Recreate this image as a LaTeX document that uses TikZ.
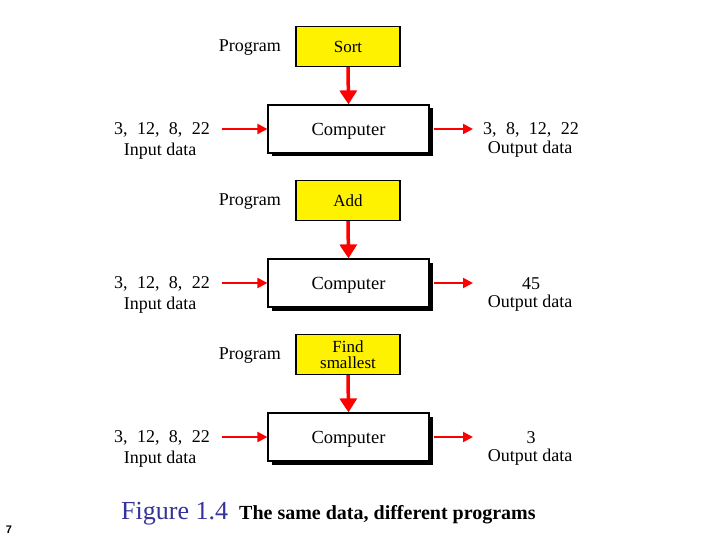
\documentclass[tikz,border=0pt]{standalone}
\usepackage{fontspec}
\setmainfont{Liberation Serif}
\newfontfamily\datafont[WordSpace=2.1]{Liberation Serif}
\newfontfamily\pagefont{Liberation Sans}
\usetikzlibrary{arrows.meta,shadows}
\definecolor{figblue}{RGB}{51,51,153}
\tikzset{
  progbox/.style={draw,line width=1.4pt,fill=yellow,minimum width=104pt,minimum height=40pt,
    align=center,inner sep=0pt,font=\fontsize{17}{15.5}\selectfont},
  compbox/.style={draw,line width=1.2pt,fill=white,minimum width=161pt,minimum height=48pt,
    inner sep=0pt,text height=15pt,text depth=2.5pt,font=\fontsize{18.5}{18}\selectfont,
    drop shadow={shadow xshift=3.5pt,shadow yshift=-3.5pt,fill=black,opacity=1}},
  txt/.style={inner sep=0pt,font=\fontsize{18}{18}\selectfont},
  feed/.style={->,red,line width=2pt},
  down/.style={->,red,line width=3.5pt}
}
\begin{document}
\begin{tikzpicture}[x=1pt,y=-1pt,>={Triangle[length=10pt,width=10pt]}]
\useasboundingbox (0,0) rectangle (720,540);
\foreach \i/\prog/\res in {0/Sort/{3,  8,  12,  22},1/Add/45,2/{Find\\smallest}/3}{
  \node[progbox] (prog\i) at (348,46.5+154*\i) {\prog};
  \node[txt,anchor=east] (lab\i) at (281,48+154*\i) {Program};
  \node[compbox] (comp\i) at (348.5,129+154*\i) {Computer};
  \node[txt] (in\i) at (162,130+154*\i) {\datafont 3, 12, 8, 22};
  \node[txt] (inlab\i) at (160,151+154*\i) {Input data};
  \node[txt] (out\i) at (531,130+154*\i) {\datafont \res};
  \node[txt] (outlab\i) at (530,149+154*\i) {Output data};
  \coordinate (src\i) at (222,129+154*\i);
  \coordinate (dst\i) at (473,129+154*\i);
  % data in and out
  \draw[feed] (src\i) -- (comp\i.west);
  \draw[feed] ([xshift=4pt]comp\i.east) -- (dst\i);
  % program into the computer
  \draw[down,>={Triangle[length=14pt,width=17pt]}] (prog\i.south) -- (comp\i.north);
}
\node[inner sep=0pt,anchor=west,text=figblue,font=\fontsize{26}{28}\selectfont] (fig) at (121,514) {Figure 1.4};
\node[inner sep=0pt,anchor=west,font=\fontsize{20}{22}\selectfont\bfseries] (cap) at (239,515) {The same data, different programs};
\node[inner sep=0pt,font=\pagefont\bfseries\fontsize{11}{12}\selectfont] (page) at (9,530) {7};
\end{tikzpicture}
\end{document}
